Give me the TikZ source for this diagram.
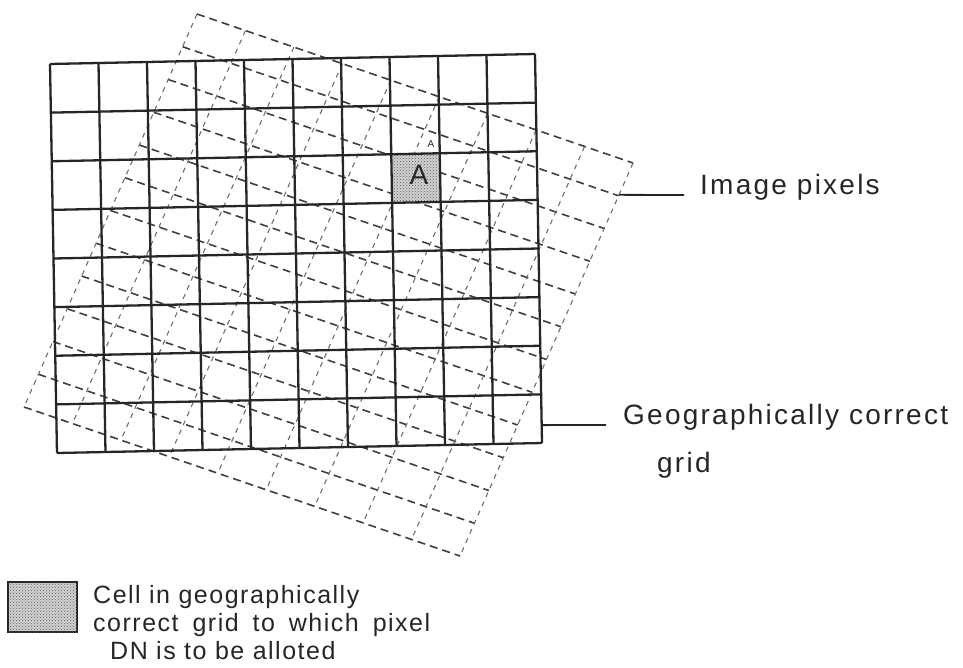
\documentclass[tikz,border=0pt]{standalone}
\usepackage{fontspec}
\usetikzlibrary{calc,patterns}
\newfontfamily\labfont[LetterSpace=8]{Liberation Sans}
\newfontfamily\legfont[LetterSpace=6]{Liberation Sans}
\newfontfamily\cellfont{Liberation Sans}
\definecolor{ink}{HTML}{262626}
\definecolor{dashA}{HTML}{3F3F3F}
\definecolor{dashB}{HTML}{6E6E6E}
\begin{document}
\begin{tikzpicture}[x=1pt,y=-1pt,
  solidline/.style={draw=ink,line width=2.3pt},
  rowdash/.style={draw=dashA,line width=1.6pt,dash pattern=on 8pt off 5pt},
  coldash/.style={draw=dashB,line width=1.1pt,dash pattern=on 5pt off 5pt},
  shadecell/.style={fill=gray!35,postaction={pattern=crosshatch dots,pattern color=black!65}},
  leader/.style={draw=ink,line width=1.8pt},
  lab/.style={inner sep=0pt,anchor=base west,font=\labfont\fontsize{28}{30}\selectfont,text=ink},
  leg/.style={inner sep=0pt,anchor=base west,font=\legfont\fontsize{25}{28}\selectfont,text=ink}]
\useasboundingbox (0,0) rectangle (963,667);
% image pixel grid (skewed, rotated)
\coordinate (T) at (197,14);
\coordinate (R) at (633,163);
\coordinate (B) at (460,556);
\coordinate (L) at (24,407);
\foreach \i in {0,...,12}
  \draw[rowdash] ($(T)!\i/12!(L)$) -- ($(R)!\i/12!(B)$);
\foreach \j in {0,...,9}
  \draw[coldash] ($(T)!\j/9!(R)$) -- ($(L)!\j/9!(B)$);
% geographically correct grid
\coordinate (G00) at (50,64);
\coordinate (G10) at (535,54);
\coordinate (G01) at (57,453);
\coordinate (G11) at (542,443);
% shaded cell A (column 8, row 3)
\coordinate (c1) at ($($(G00)!7/10!(G10)$)!2/8!($(G01)!7/10!(G11)$)$);
\coordinate (c2) at ($($(G00)!8/10!(G10)$)!2/8!($(G01)!8/10!(G11)$)$);
\coordinate (c3) at ($($(G00)!8/10!(G10)$)!3/8!($(G01)!8/10!(G11)$)$);
\coordinate (c4) at ($($(G00)!7/10!(G10)$)!3/8!($(G01)!7/10!(G11)$)$);
\path[shadecell] (c1) -- (c2) -- (c3) -- (c4) -- cycle;
\foreach \i in {0,...,10}
  \draw[solidline] ($(G00)!\i/10!(G10)$) -- ($(G01)!\i/10!(G11)$);
\foreach \j in {0,...,8}
  \draw[solidline] ($(G00)!\j/8!(G01)$) -- ($(G10)!\j/8!(G11)$);
\node[inner sep=0pt,font=\cellfont\fontsize{28}{28}\selectfont,text=ink] (A) at (419,175) {A};
\node[inner sep=0pt,font=\cellfont\fontsize{10}{10}\selectfont,text=ink] (a) at (431,144) {A};
% labels and leaders
\coordinate (ipA) at ($(R)!0.081!(B)$);
\coordinate (ipB) at (684,195);
\draw[leader] (ipA) -- (ipB);
\node[lab] (ip) at (700,194) {Image pixels};
\coordinate (gcA) at ($(G10)!0.954!(G11)$);
\coordinate (gcB) at (606,425);
\draw[leader] (gcA) -- (gcB);
\node[lab] (gc1) at (623,424) {Geographically correct};
\node[lab] (gc2) at (657,472) {grid};
% legend
\node[shadecell,draw=ink,line width=2pt,minimum width=69pt,minimum height=50pt,inner sep=0pt] (key) at (42.5,607) {};
\node[leg] (t1) at (93,603) {Cell in geographically};
\node[leg] (t2) at (93,631) {\hbox to 337pt{correct\hfil\ grid\hfil\ to\hfil\ which\hfil\ pixel}};
\node[leg] (t3) at (110,659) {DN is to be alloted};
\end{tikzpicture}
\end{document}
